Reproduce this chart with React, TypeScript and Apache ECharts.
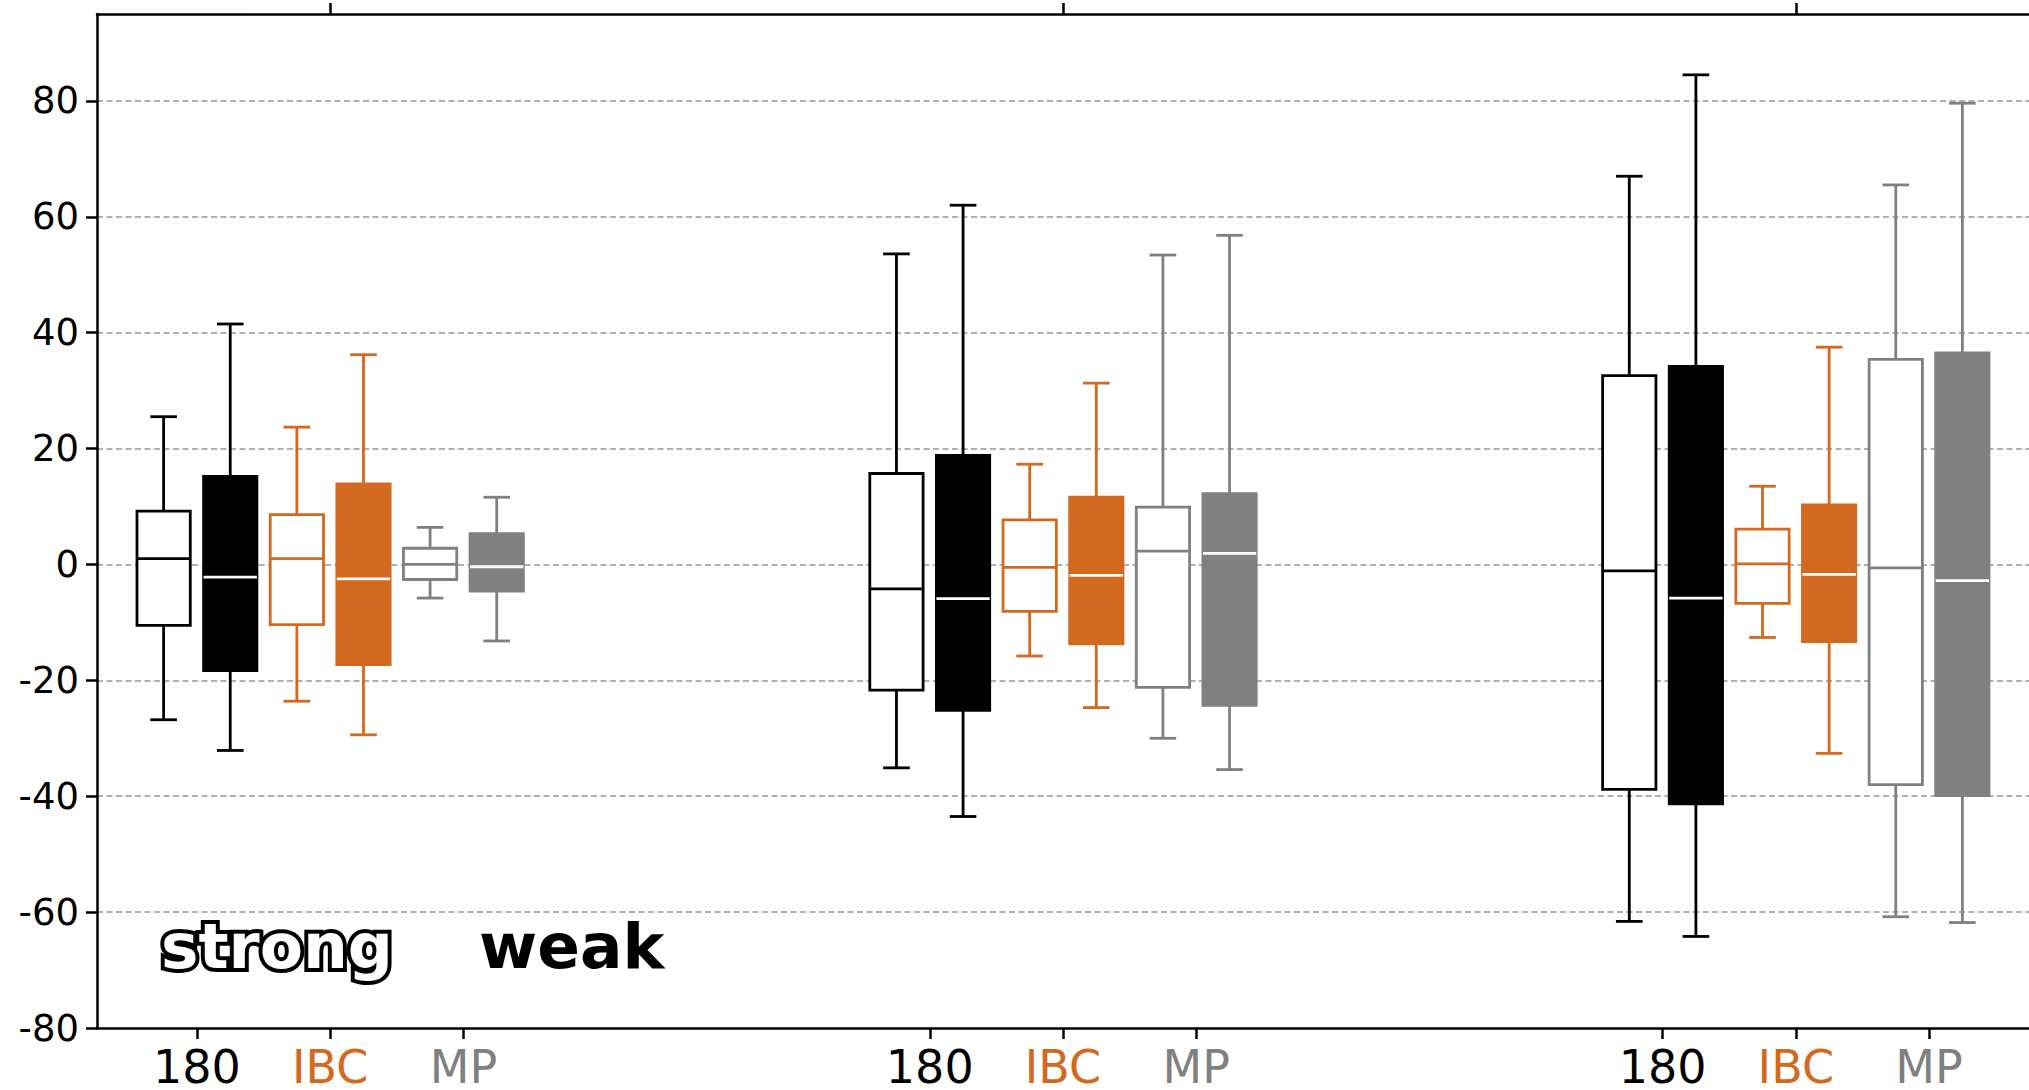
import React, { useEffect, useRef } from "react";
import * as echarts from "echarts";

// ---------- data ----------
const groupCenters = [0, 1, 2];
const boxOffsets = [-2.5 / 11, -1.5 / 11, -0.5 / 11, 0.5 / 11, 1.5 / 11, 2.5 / 11];
const tickOffsets = [-2 / 11, 0, 2 / 11];
const tickLabels = ["180", "IBC", "MP"];
const yTicks = [-80, -60, -40, -20, 0, 20, 40, 60, 80];

// each entry: [min, q1, median, q3, max] for groups 0,1,2
const open180 = [
  [-26.8, -10.5, 1.0, 9.2, 25.5],
  [-35.1, -21.7, -4.2, 15.7, 53.6],
  [-61.6, -38.8, -1.1, 32.6, 67.0],
];
const filled180 = [
  [-32.1, -18.3, -2.2, 15.2, 41.5],
  [-43.5, -25.2, -5.9, 18.8, 62.0],
  [-64.2, -41.3, -5.8, 34.2, 84.5],
];
const openIBC = [
  [-23.6, -10.4, 1.0, 8.6, 23.7],
  [-15.8, -8.1, -0.5, 7.7, 17.3],
  [-12.6, -6.7, 0.1, 6.1, 13.5],
];
const filledIBC = [
  [-29.4, -17.3, -2.5, 13.9, 36.2],
  [-24.7, -13.7, -1.9, 11.6, 31.3],
  [-32.6, -13.3, -1.7, 10.3, 37.5],
];
const openMP = [
  [-5.8, -2.6, 0.0, 2.8, 6.4],
  [-30.0, -21.2, 2.3, 9.9, 53.4],
  [-60.8, -38.0, -0.6, 35.4, 65.5],
];
const filledMP = [
  [-13.2, -4.6, -0.4, 5.3, 11.6],
  [-35.4, -24.3, 1.9, 12.2, 56.8],
  [-61.8, -39.9, -2.8, 36.5, 79.6],
];

const BLACK = "#000000";
const ORANGE = "#D2691E";
const GRAY = "#808080";
const tickColors = [BLACK, ORANGE, GRAY];

const seriesDefs = [
  { name: "180 strong", values: open180, color: BLACK, filled: false },
  { name: "180 weak", values: filled180, color: BLACK, filled: true },
  { name: "IBC strong", values: openIBC, color: ORANGE, filled: false },
  { name: "IBC weak", values: filledIBC, color: ORANGE, filled: true },
  { name: "MP strong", values: openMP, color: GRAY, filled: false },
  { name: "MP weak", values: filledMP, color: GRAY, filled: true },
];

const BOX_W = 0.8 / 11;
const FONT = "DejaVu Sans";

function makeRender(color: string, filled: boolean) {
  return (params: any, api: any) => {
    const x = api.value(0);
    const vMin = api.value(1);
    const q1 = api.value(2);
    const med = api.value(3);
    const q3 = api.value(4);
    const vMax = api.value(5);
    const halfW = api.size([BOX_W, 0])[0] / 2;
    const capHalf = halfW / 2;
    const cx = api.coord([x, vMin])[0];
    const yMin = api.coord([x, vMin])[1];
    const yQ1 = api.coord([x, q1])[1];
    const yMed = api.coord([x, med])[1];
    const yQ3 = api.coord([x, q3])[1];
    const yMax = api.coord([x, vMax])[1];
    const lw = 2.8;
    const ls = { stroke: color, lineWidth: lw, fill: null };
    return {
      type: "group",
      children: [
        { type: "line", shape: { x1: cx, y1: yQ3, x2: cx, y2: yMax }, style: ls },
        { type: "line", shape: { x1: cx, y1: yQ1, x2: cx, y2: yMin }, style: ls },
        { type: "line", shape: { x1: cx - capHalf, y1: yMax, x2: cx + capHalf, y2: yMax }, style: ls },
        { type: "line", shape: { x1: cx - capHalf, y1: yMin, x2: cx + capHalf, y2: yMin }, style: ls },
        {
          type: "rect",
          shape: { x: cx - halfW, y: yQ3, width: 2 * halfW, height: yQ1 - yQ3 },
          style: { fill: filled ? color : "#ffffff", stroke: color, lineWidth: lw },
        },
        {
          type: "line",
          shape: { x1: cx - halfW, y1: yMed, x2: cx + halfW, y2: yMed },
          style: { stroke: filled ? "#ffffff" : color, lineWidth: lw },
        },
      ],
    };
  };
}

export default function App() {
  const ref = useRef<HTMLDivElement>(null);
  useEffect(() => {
    if (!ref.current) return;
    const chart = echarts.init(ref.current, undefined, { renderer: "svg" });
    const xMin = -3.5 / 11;
    const xMax = groupCenters[groupCenters.length - 1] + 3.5 / 11;
    const bottomTicks: number[] = [];
    groupCenters.forEach((g) => tickOffsets.forEach((o) => bottomTicks.push(g + o)));

    const rich: any = {};
    tickColors.forEach((c, i) => {
      rich["c" + i] = { color: c, fontSize: 46, fontFamily: FONT };
    });

    const spine = { show: true, onZero: false, lineStyle: { color: "#000", width: 2.5 } };
    const tick = (vals: number[]) => ({
      show: true,
      length: 11,
      lineStyle: { color: "#000", width: 2.5 },
      customValues: vals,
    });

    const option: any = {
      animation: false,
      backgroundColor: "#ffffff",
      grid: { left: 97, top: 14, width: 1934, bottom: 59 },
      xAxis: [
        {
          type: "value",
          position: "bottom",
          min: xMin,
          max: xMax,
          axisLine: spine,
          axisTick: tick(bottomTicks),
          axisLabel: {
            show: true,
            margin: 16,
            customValues: bottomTicks,
            formatter: (v: number) => {
              const g = Math.round(v);
              const idx = Math.round(((v - g) * 11) / 2) + 1;
              return "{c" + idx + "|" + tickLabels[idx] + "}";
            },
            rich,
          },
          splitLine: { show: false },
        },
        {
          type: "value",
          position: "top",
          min: xMin,
          max: xMax,
          axisLine: spine,
          axisTick: tick(groupCenters),
          axisLabel: { show: false },
          splitLine: { show: false },
        },
      ],
      yAxis: {
        type: "value",
        min: -80,
        max: 95,
        interval: 20,
        axisLine: spine,
        axisTick: tick(yTicks),
        axisLabel: {
          show: true,
          margin: 18,
          customValues: yTicks,
          color: "#000",
          fontSize: 37,
          fontFamily: FONT,
        },
        splitLine: {
          show: true,
          showMinLine: false,
          showMaxLine: true,
          lineStyle: { color: "#b0b0b0", width: 1.8, type: [6, 3.5] },
        },
      },
      series: seriesDefs.map((s, k) => ({
        type: "custom",
        name: s.name,
        xAxisIndex: 0,
        yAxisIndex: 0,
        renderItem: makeRender(s.color, s.filled),
        encode: { x: 0, y: [1, 2, 3, 4, 5] },
        data: groupCenters.map((g, i) => [g + boxOffsets[k], ...s.values[i]]),
        z: 2,
      })),
      graphic: [
        {
          type: "text",
          x: 161,
          y: 946,
          z: 100,
          style: {
            text: "strong",
            fontSize: 63,
            fontWeight: "bold",
            fontFamily: FONT,
            fill: "#ffffff",
            stroke: "#000000",
            lineWidth: 8,
            strokeFirst: true,
            verticalAlign: "middle",
            textVerticalAlign: "middle",
          },
        },
        {
          type: "text",
          x: 479,
          y: 946,
          z: 100,
          style: {
            text: "weak",
            fontSize: 63,
            fontWeight: "bold",
            fontFamily: FONT,
            fill: "#000000",
            verticalAlign: "middle",
            textVerticalAlign: "middle",
          },
        },
      ],
    };
    chart.setOption(option);
    return () => chart.dispose();
  }, []);
  return (
    <div
      ref={ref}
      style={{ position: "fixed", left: 0, top: 0, width: 2029, height: 1090, background: "#fff" }}
    />
  );
}
